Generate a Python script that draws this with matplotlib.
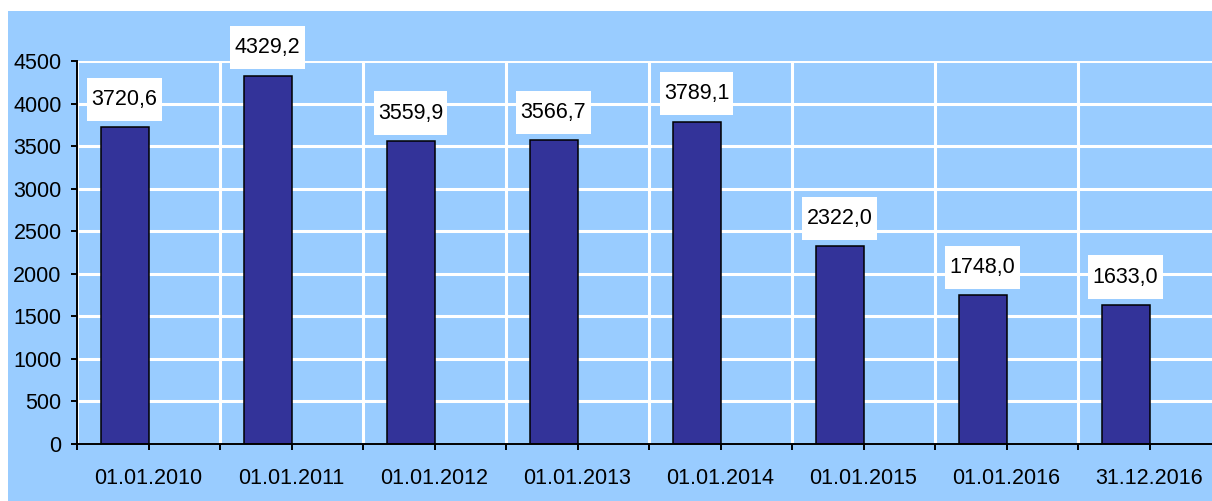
import matplotlib
matplotlib.use("Agg")
import matplotlib.pyplot as plt
from matplotlib.patches import Rectangle
from matplotlib.ticker import FixedLocator, MultipleLocator

categories = ["01.01.2010", "01.01.2011", "01.01.2012", "01.01.2013",
              "01.01.2014", "01.01.2015", "01.01.2016", "31.12.2016"]
values = [3720.6, 4329.2, 3559.9, 3566.7, 3789.1, 2322.0, 1748.0, 1633.0]
value_labels = ["3720,6", "4329,2", "3559,9", "3566,7", "3789,1", "2322,0", "1748,0", "1633,0"]

BG = "#99CCFF"
BAR = "#333399"
FS = 15.5

plt.rcParams['font.family'] = ['Liberation Sans', 'DejaVu Sans']

W, H = 1212, 501
fig = plt.figure(figsize=(W / 100, H / 100), dpi=100)
fig.patch.set_facecolor("white")
bg = Rectangle((8 / W, 0), 1, (H - 11) / H, transform=fig.transFigure,
               facecolor=BG, edgecolor="none", zorder=-10)
fig.add_artist(bg)

left = 77 / W
bottom = (H - 444) / H
height = (444 - 61) / H
ax = fig.add_axes([left, bottom, 1 - left, height])
ax.set_zorder(1)
ax.set_facecolor(BG)

cat_w = 143
xmax = (W - 77) / cat_w - 0.5
x = list(range(len(categories)))
bw = 48 / cat_w
ax.bar(x, values, width=-bw, align="edge", color=BAR, edgecolor="black",
       linewidth=1.1, zorder=3)

ax.set_xlim(-0.5, xmax)
ax.set_ylim(0, 4500)

# ticks
ax.xaxis.set_major_locator(FixedLocator(x))
ax.set_xticklabels(categories, fontsize=FS)
ax.xaxis.set_minor_locator(FixedLocator([i + 0.5 for i in range(-1, len(categories))]))
ax.tick_params(axis="x", which="major", direction="out", length=4, width=1.4, pad=13)
ax.tick_params(axis="x", which="minor", direction="out", length=4, width=1.4)
ax.yaxis.set_major_locator(MultipleLocator(500))
ax.tick_params(axis="y", which="major", direction="out", length=4.5, width=1.4,
               pad=6.5, labelsize=FS)

# grid
ax.set_axisbelow(True)
ax.grid(axis="y", which="major", color="white", linewidth=2.2)
ax.grid(axis="x", which="minor", color="white", linewidth=2.2)
ax.grid(axis="x", which="major", visible=False)

for s in ["top", "right"]:
    ax.spines[s].set_visible(False)
for s in ["left", "bottom"]:
    ax.spines[s].set_linewidth(1.4)
    ax.spines[s].set_color("black")
    ax.spines[s].set_zorder(4)

for xi, v, lab in zip(x, values, value_labels):
    ax.annotate(lab, xy=(xi - bw / 2, v), xytext=(0, 12.5), textcoords="offset points",
                ha="center", va="bottom", fontsize=FS, color="black", zorder=5,
                annotation_clip=False,
                bbox=dict(boxstyle="square,pad=0.2", mutation_aspect=2.6,
                          facecolor="white", edgecolor="none"))

fig.savefig("out.png", dpi=100)
